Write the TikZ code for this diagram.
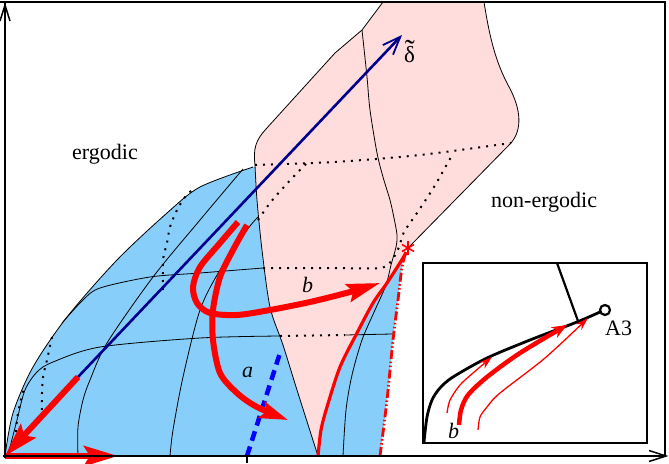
\documentclass[tikz,border=0pt]{standalone}
\usepackage{fontspec}
\setmainfont{Liberation Serif}
\usetikzlibrary{arrows.meta}
\definecolor{ergblue}{RGB}{135,206,250}
\definecolor{nepink}{RGB}{255,221,221}
\definecolor{dnavy}{RGB}{0,0,140}
\begin{document}
\begin{tikzpicture}[x=1pt,y=-1pt,
  gridline/.style={line width=0.8pt, black},
  hidden/.style={line width=2pt, dash pattern=on 2pt off 6pt},
  redthick/.style={red, line width=6pt},
  bigtip/.style={-{Stealth[length=34pt,width=20pt,inset=6pt]}},
  lbl/.style={font=\fontsize{22}{26}\selectfont, inner sep=0pt, anchor=base west},
]
\useasboundingbox (0,0) rectangle (669,463);
% regions
\fill[ergblue] (5,456) -- (380,456)
  -- plot[smooth] coordinates {(380,456) (387,400) (393,340) (398,300) (402,267) (406,252)}
  -- (300,160) -- (253,167)
  -- plot[smooth] coordinates {(253,167) (200,187) (167,213) (117,260) (67,317) (33,367) (13,413) (5,456)}
  -- cycle;
\fill[nepink] (255,165) .. controls (253,148) and (256,140) .. (266,129) -- (335,53) -- (362,30) -- (383,2) -- (484,2)
  .. controls (490,40) and (496,62) .. (508,85) .. controls (522,110) and (522,130) .. (511,143) -- (408,248)
  -- plot[smooth] coordinates {(406,252) (403,258) (387,283) (373,303) (357,333) (340,367) (327,407) (321,430) (318,456)}
  -- plot[smooth] coordinates {(318,456) (297,390) (283,345) (270,307) (262,250) (257,200) (255,165)}
  -- cycle;
% grid lines
\draw[gridline] plot[smooth] coordinates {(78,456) (78,427) (83,400) (90,380) (107,343) (153,277) (200,220) (243,169)};
\draw[gridline] plot[smooth] coordinates {(170,456) (173,430) (183,377) (200,310) (220,270) (247,230) (258,217)};
\draw[gridline] plot[smooth] coordinates {(343,456) (346,410) (352,375) (362,340) (375,310) (386,285) (391,265) (396,247) (397,235) (394,218) (390,200) (383,177) (377,153) (370,110) (367,77) (362,30)};
\draw[gridline] plot[smooth] coordinates {(8,455) (17,420) (25,390) (37,372) (53,362) (100,347) (200,338) (280,336)};
\draw[gridline] (345,335) -- (392,334);
\draw[gridline] plot[smooth] coordinates {(62,323) (83,300) (100,288) (150,277) (200,273) (263,268)};
% hidden (dotted) lines
\draw[hidden] (280,336) -- (345,335);
\draw[hidden] plot[smooth] coordinates {(263,268) (330,268) (380,268) (392,260) (399,247) (404,232) (417,213) (434,187) (451,157)};
\draw[hidden] plot[smooth] coordinates {(255,165) (334,162) (420,155) (511,143)};
\draw[hidden] plot[smooth] coordinates {(258,220) (270,203) (283,188) (297,173) (307,163)};
\draw[hidden] plot[smooth] coordinates {(15,440) (18,413) (24,388)};
\draw[hidden] plot[smooth] coordinates {(42,410) (42,393) (43,377) (47,360) (52,337)};
\draw[hidden] plot[smooth] coordinates {(163,290) (163,260) (167,243) (170,227) (177,210) (185,197) (192,190)};
% edges
\draw[gridline] plot[smooth] coordinates {(253,167) (200,187) (167,213) (117,260) (67,317) (33,367) (13,413) (5,456)};
\draw[gridline] plot[smooth] coordinates {(318,456) (297,390) (283,345) (270,307) (262,250) (257,200) (255,165)}
  .. controls (253,148) and (256,140) .. (266,129) -- (335,53) -- (362,30) -- (383,2);
\draw[gridline] (484,2) .. controls (490,40) and (496,62) .. (508,85) .. controls (522,110) and (522,130) .. (511,143) -- (408,248);
% delta axis
\draw[dnavy, line width=2.6pt, -{Straight Barb[length=18pt,width=14pt,line width=1.8pt]}] (78,377) -- (402,35);
\node[lbl, font=\fontsize{23}{27}\selectfont] (delta) at (404,62)
  {\rlap{\makebox[0.5em][c]{\raisebox{2pt}{\fontsize{30}{30}\selectfont\char"02DC}}}δ};
% red arrows to origin and along the bottom
\draw[redthick, bigtip] (78,377) -- (5,456);
\draw[redthick, bigtip] (5,456) -- (118,456);
% blue dashed line
\draw[blue, line width=4.5pt, dash pattern=on 10pt off 6pt] (247,456) -- (280,353);
% paths a and b
\draw[redthick, -{Stealth[length=28pt,width=17pt,inset=5pt]}] plot[smooth] coordinates {(247,225) (233,250) (220,277) (213,310) (213,340) (220,373) (237,393) (257,407) (288,420)};
\draw[redthick, -{Stealth[length=33pt,width=18pt,inset=5pt]}] plot[smooth] coordinates {(238,222) (220,243) (200,267) (193,287) (197,303) (210,313) (237,315) (270,310) (310,302) (350,292) (380,283)};
% red boundary curves
\draw[red, line width=3.2pt] plot[smooth] coordinates {(318,456) (321,430) (327,407) (340,367) (357,333) (373,303) (387,283) (403,258) (406,252)};
\draw[red, line width=2.8pt, dash pattern=on 9pt off 2.5pt on 1.5pt off 2.5pt on 1.5pt off 2.5pt] plot[smooth] coordinates {(380,456) (387,400) (393,340) (398,300) (402,267) (406,252)};
% star
\draw[red, line width=1.6pt] (408,241) -- (408,255) (402,244.5) -- (414,251.5) (402,251.5) -- (414,244.5);
% axes and frame
\draw[line width=1.6pt] (0,2) -- (665,2) -- (665,456);
\draw[line width=2.6pt] (5,458) -- (5,2);
\draw[line width=2.6pt] (3,456) -- (666,456);
\draw[line width=1.5pt] (0,21) -- (5,5) -- (10,21);
\draw[line width=1.5pt] (649,450.5) -- (666,456) -- (649,461.5);
\draw[line width=2.4pt] (247,456) -- (247,463);
% labels
\node[lbl] (erg) at (72,159) {ergodic};
\node[lbl] (nonerg) at (491,207) {non-ergodic};
\node[lbl, font=\fontsize{22}{26}\selectfont\itshape] (la) at (242,377) {a};
\node[lbl, font=\fontsize{22}{26}\selectfont\itshape] (lb) at (302,292) {b};
% inset
\draw[line width=2.6pt, fill=white] (423,263) rectangle (647,443);
\draw[line width=2.2pt] (557,263) -- (578,321);
\draw[line width=2.8pt] plot[smooth] coordinates {(424,442) (427,417) (432,400) (440,388) (453,377) (487,358) (530,340) (577,322) (600,312)};
\draw[line width=2.2pt] (605,310) circle (5pt);
\node[lbl] (A3) at (605,335) {A3};
\draw[red, line width=1.3pt, -{Stealth[length=13pt,width=8pt]}] plot[smooth] coordinates {(447,413) (450,400) (460,385) (473,373) (492,357)};
\draw[red, line width=4.5pt, -{Stealth[length=15pt,width=12pt]}] plot[smooth] coordinates {(459,425) (461,410) (468,395) (487,377) (520,353) (567,325)};
\draw[red, line width=1.3pt, -{Stealth[length=13pt,width=8pt]}] plot[smooth] coordinates {(478,430) (480,417) (487,407) (500,393) (545,358) (588,318)};
\node[lbl, font=\fontsize{22}{26}\selectfont\itshape] (lb2) at (448,438) {b};
\end{tikzpicture}
\end{document}
